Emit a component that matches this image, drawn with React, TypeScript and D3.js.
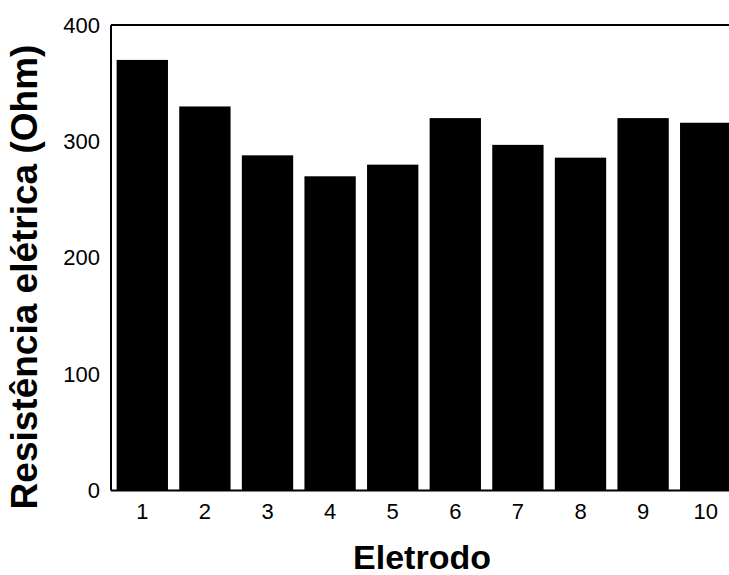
import React from "react";
import * as d3 from "d3";

const electrodes = ["1", "2", "3", "4", "5", "6", "7", "8", "9", "10"];
const resistance = [370, 330, 288, 270, 280, 320, 297, 286, 320, 316];
const yTicks = [0, 100, 200, 300, 400];

const WIDTH = 729;
const HEIGHT = 575;
const FONT = "'Liberation Sans', Arial, sans-serif";

export default function App() {
  const left = 111;
  const top = 25;
  const bottom = 490.5;

  const x = d3
    .scaleBand<string>()
    .domain(electrodes)
    .range([left, left + 626])
    .paddingInner(0.18)
    .paddingOuter(0.09);

  const y = d3.scaleLinear().domain([0, 400]).range([bottom, top]);

  return (
    <svg
      width={WIDTH}
      height={HEIGHT}
      style={{ position: "absolute", left: 0, top: 0, background: "#fff" }}
      fontFamily={FONT}
    >
      {electrodes.map((e, i) => (
        <rect
          key={e}
          x={x(e)}
          y={y(resistance[i])}
          width={x.bandwidth()}
          height={y(0) - y(resistance[i])}
          fill="#000"
        />
      ))}

      {/* frame: left, bottom, top */}
      <line x1={left} x2={left} y1={top} y2={bottom} stroke="#000" strokeWidth={2} />
      <line x1={left} x2={WIDTH} y1={bottom} y2={bottom} stroke="#000" strokeWidth={2} />
      <line x1={left} x2={WIDTH} y1={top} y2={top} stroke="#000" strokeWidth={2} />

      {yTicks.map((t) => (
        <text
          key={t}
          x={100}
          y={y(t)}
          textAnchor="end"
          dominantBaseline="central"
          fontSize={22}
          fill="#000"
        >
          {t}
        </text>
      ))}

      {electrodes.map((e) => (
        <text
          key={e}
          x={(x(e) ?? 0) + x.bandwidth() / 2}
          y={519}
          textAnchor="middle"
          fontSize={22}
          fill="#000"
        >
          {e}
        </text>
      ))}

      <text
        x={422}
        y={569}
        textAnchor="middle"
        fontSize={34}
        fontWeight="bold"
        fill="#000"
      >
        Eletrodo
      </text>

      <text
        transform={`translate(37, 277) rotate(-90)`}
        textAnchor="middle"
        fontSize={37}
        fontWeight="bold"
        fill="#000"
      >
        Resistência elétrica (Ohm)
      </text>
    </svg>
  );
}
